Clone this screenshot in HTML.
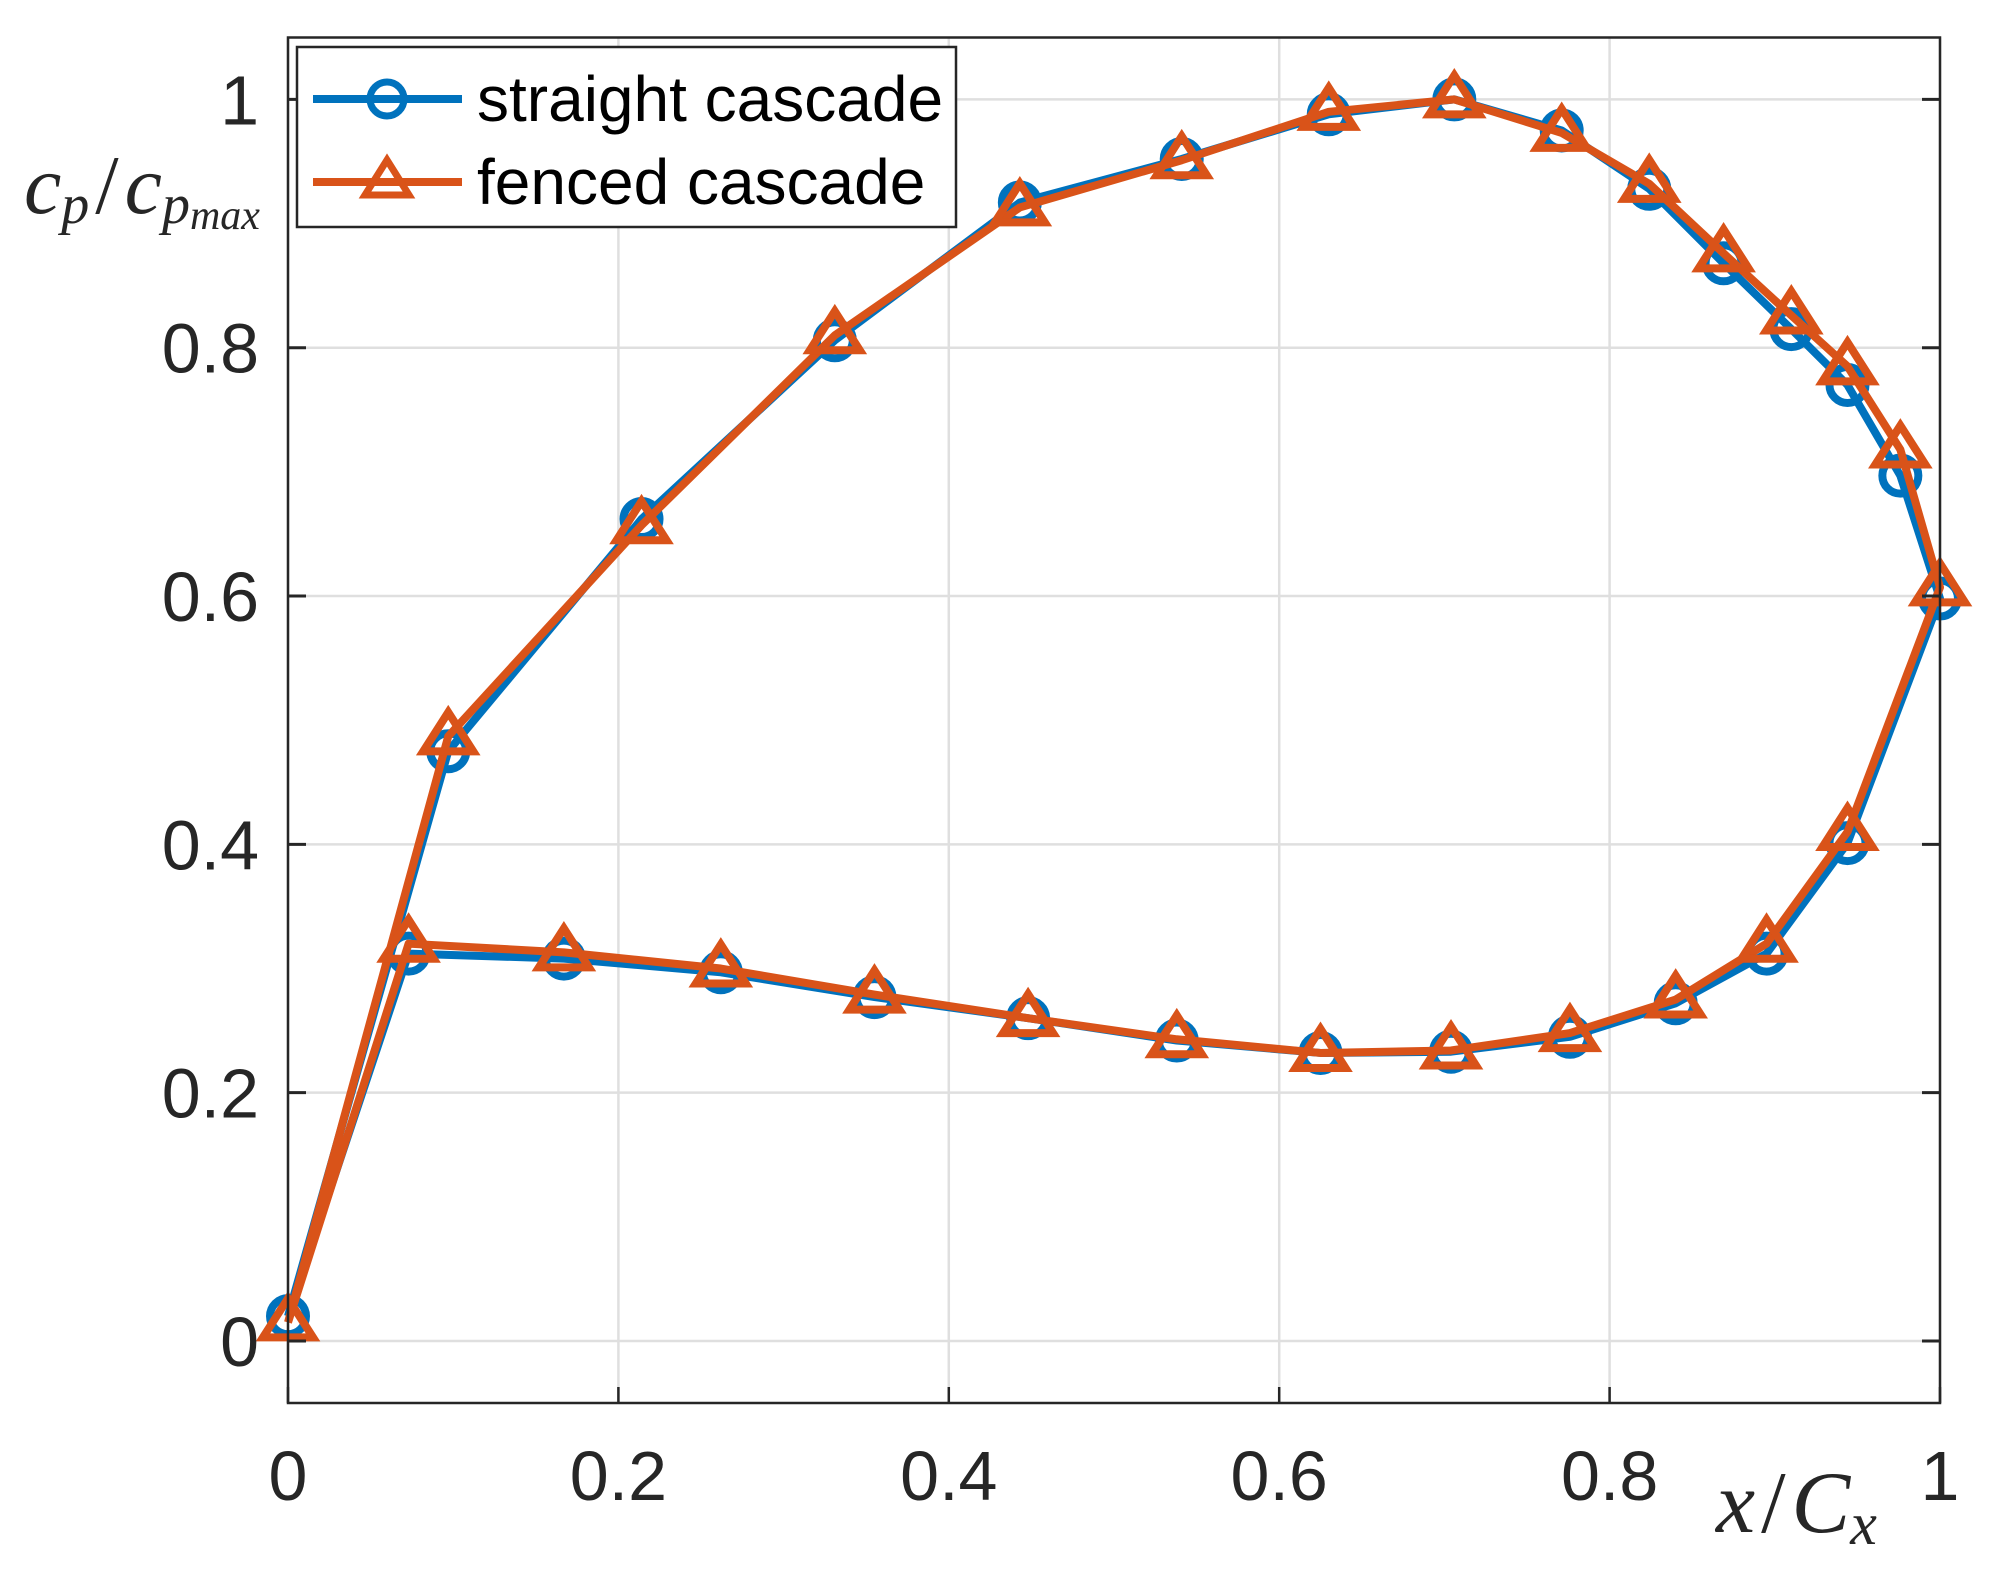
<!DOCTYPE html>
<html><head><meta charset="utf-8"><style>
body{margin:0;background:#fff;}
</style></head><body>
<svg id="chart" width="1998" height="1583" viewBox="0 0 1998 1583" xmlns="http://www.w3.org/2000/svg">
<rect width="1998" height="1583" fill="#fff"/>
<g id="grid"></g>
<g id="series"></g>
<rect x="288" y="37.5" width="1652" height="1365.5" fill="none" stroke="#262626" stroke-width="2.5"/>
<g id="ticks"></g>
<text x="24" y="213" style="font-family:'Liberation Serif',serif;font-style:italic;fill:#262626" font-size="84">c<tspan font-size="56" dy="10">p</tspan><tspan font-size="84" dy="-10" dx="6" style="font-style:normal">/</tspan><tspan dx="6">c</tspan><tspan font-size="56" dy="10">p</tspan><tspan font-size="42" dy="6">max</tspan></text>
<text x="1716" y="1532" style="font-family:'Liberation Serif',serif;font-style:italic;fill:#262626" font-size="88">x<tspan dx="6" style="font-style:normal">/</tspan><tspan dx="6">C</tspan><tspan font-size="60" dy="12">x</tspan></text>
<g>
<rect x="297" y="47" width="659" height="180" fill="#fff" stroke="#262626" stroke-width="2.5"/>
<line x1="313" y1="99" x2="462" y2="99" stroke="#0072BD" stroke-width="8"/>
<circle cx="387" cy="99" r="17" fill="none" stroke="#0072BD" stroke-width="7"/>
<text x="477" y="121" font-size="64" style="font-family:'Liberation Sans',sans-serif;fill:#000">straight cascade</text>
<line x1="313" y1="182" x2="462" y2="182" stroke="#D95319" stroke-width="8"/>
<polygon points="387,160 409,195 365,195" fill="none" stroke="#D95319" stroke-width="7"/>
<text x="477" y="204" font-size="64" style="font-family:'Liberation Sans',sans-serif;fill:#000">fenced cascade</text>
</g>
</svg>
<script>
const xTicks=[0,0.2,0.4,0.6,0.8,1];
const yTicks=[0,0.2,0.4,0.6,0.8,1];
const xTickLabels=["0","0.2","0.4","0.6","0.8","1"];
const yTickLabels=["0","0.2","0.4","0.6","0.8","1"];
const straightX=[0,0.097,0.214,0.331,0.443,0.541,0.630,0.706,0.771,0.824,0.869,0.910,0.944,0.976,1.0,0.944,0.895,0.840,0.776,0.704,0.625,0.538,0.448,0.355,0.262,0.167,0.073,0];
const straightY=[0.02,0.475,0.662,0.806,0.917,0.952,0.988,1.0,0.975,0.928,0.868,0.815,0.77,0.697,0.598,0.401,0.312,0.272,0.245,0.233,0.232,0.242,0.260,0.277,0.297,0.308,0.312,0.02];
const fencedX=[0,0.097,0.214,0.331,0.443,0.541,0.630,0.706,0.771,0.824,0.869,0.910,0.944,0.976,1.0,0.944,0.895,0.840,0.776,0.704,0.625,0.538,0.448,0.355,0.262,0.167,0.073,0];
const fencedY=[0.015,0.487,0.657,0.81,0.913,0.951,0.99,1.0,0.973,0.932,0.876,0.826,0.785,0.718,0.607,0.41,0.32,0.275,0.248,0.234,0.232,0.243,0.26,0.279,0.3,0.313,0.32,0.015];
const NS="http://www.w3.org/2000/svg";
const L=288,R=1940,Y0=1341,Y1=99.4;
function sx(v){return L+v*(R-L);}
function sy(v){return Y0+v*(Y1-Y0);}
function mk(t,a,p){const e=document.createElementNS(NS,t);for(const k in a)e.setAttribute(k,a[k]);p.appendChild(e);return e;}
const grid=document.getElementById('grid'),ticks=document.getElementById('ticks'),ser=document.getElementById('series');
const TS='font-family:"Liberation Sans",sans-serif;fill:#262626';
xTicks.forEach((v,i)=>{
 const g=mk('line',{x1:sx(v),x2:sx(v),y1:37.5,y2:1403,stroke:'#dfdfdf','stroke-width':2.5},grid);
 
 
 const t=mk('line',{x1:sx(v),x2:sx(v),y1:1403,y2:1387,stroke:'#262626','stroke-width':2.5},ticks);
 
 
 const tx=mk('text',{x:sx(v),y:1500,'font-size':70,'text-anchor':'middle',style:TS},ticks);
 tx.textContent=xTickLabels[i];
 
 
});
yTicks.forEach((v,i)=>{
 const g=mk('line',{x1:288,x2:1940,y1:sy(v),y2:sy(v),stroke:'#dfdfdf','stroke-width':2.5},grid);
 
 
 const t=mk('line',{x1:288,x2:306,y1:sy(v),y2:sy(v),stroke:'#262626','stroke-width':3},ticks);
 
 
 const t2=mk('line',{x1:1922,x2:1940,y1:sy(v),y2:sy(v),stroke:'#262626','stroke-width':3},ticks);
 
 
 const tx=mk('text',{x:259,y:sy(v)+25,'font-size':70,'text-anchor':'end',style:TS},ticks);
 tx.textContent=yTickLabels[i];
 
 
});
function draw(X,Y,col,name,tri){
 const pts=X.map((v,i)=>sx(v)+','+sy(Y[i])).join(' ');
 const pl=mk('polyline',{points:pts,fill:'none',stroke:col,'stroke-width':8,'stroke-linejoin':'round'},ser);
 
 
 X.forEach((v,i)=>{
  if(i===X.length-1)return;
  const cx=sx(v),cy=sy(Y[i]);
  let m;
  if(tri) m=mk('polygon',{points:`${cx},${cy-24} ${cx+25},${cy+15} ${cx-25},${cy+15}`,fill:'none',stroke:col,'stroke-width':8},ser);
  else m=mk('circle',{cx:cx,cy:cy,r:18,fill:'none',stroke:col,'stroke-width':8},ser);
  
  
 });
}
draw(straightX,straightY,'#0072BD','straight-cascade',false);
draw(fencedX,fencedY,'#D95319','fenced-cascade',true);
</script>
</body></html>
